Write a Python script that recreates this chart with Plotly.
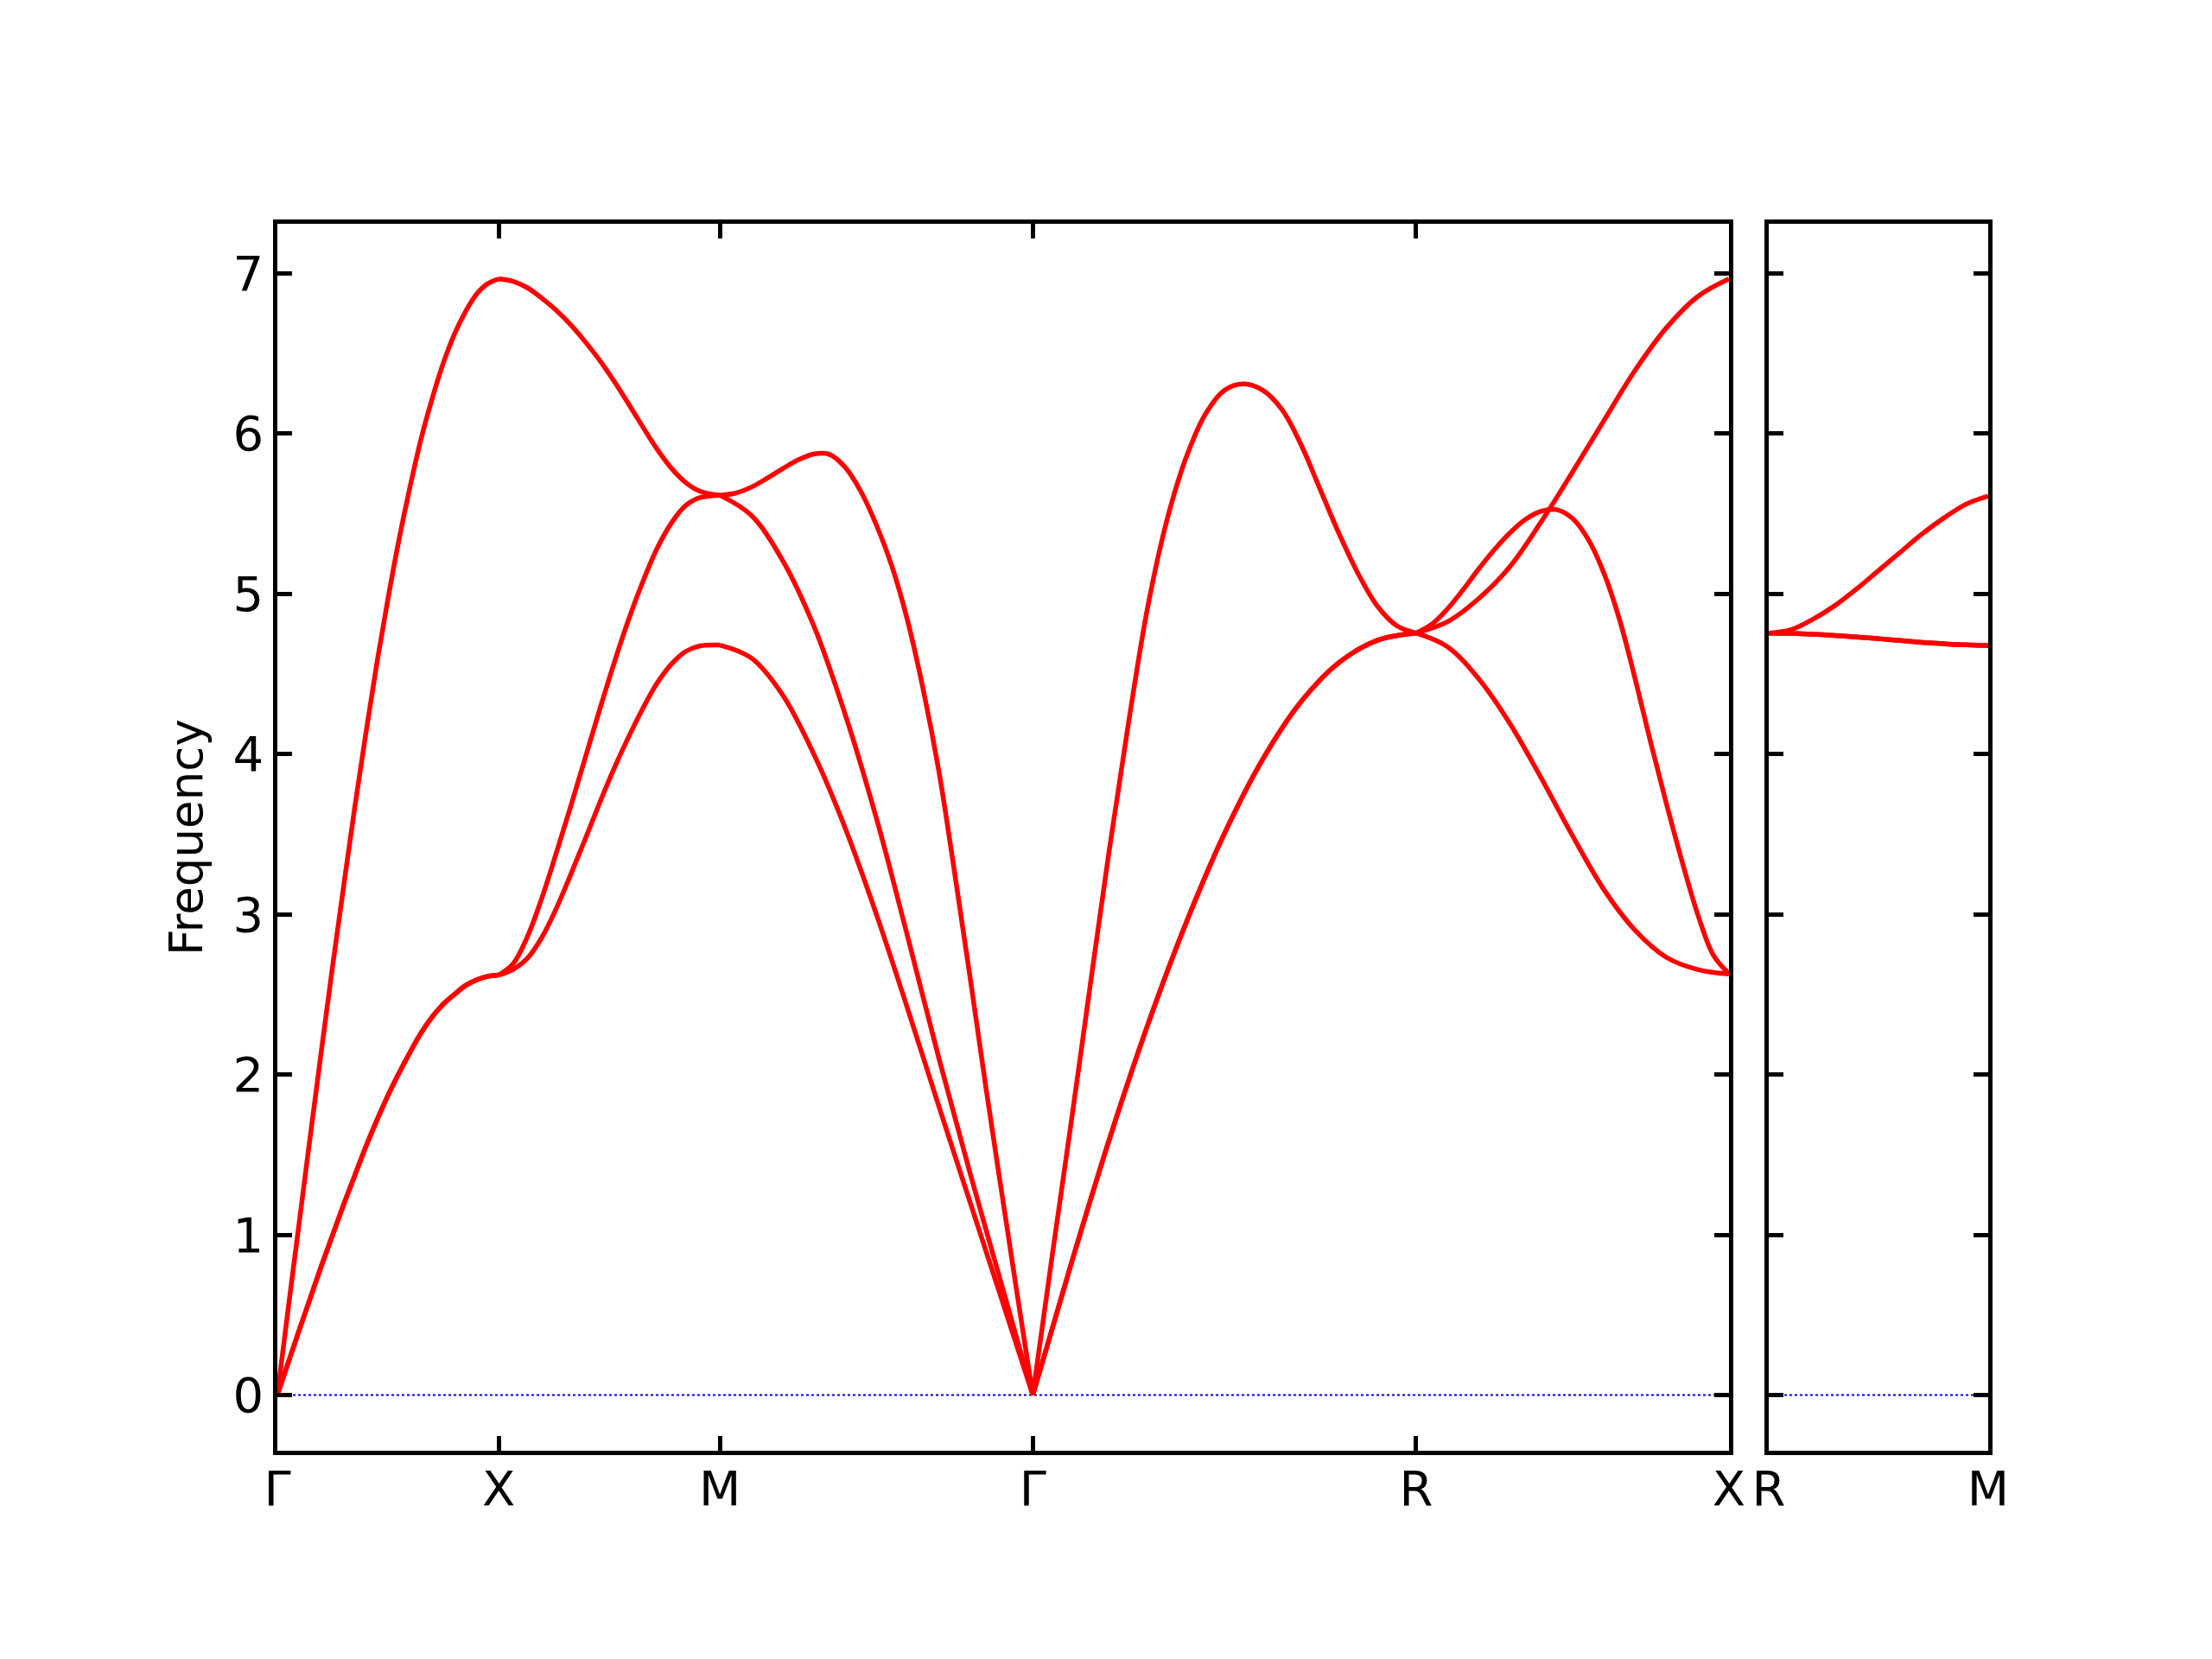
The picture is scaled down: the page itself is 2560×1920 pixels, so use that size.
import plotly.graph_objects as go

# ---------------- data ----------------
point_labels = ["Γ", "X", "M", "Γ", "R", "X"]
seg_lengths = [1.0, 1.0, 1.4142, 1.7321, 1.4142]   # Γ-X, X-M, M-Γ, Γ-R, R-X

f10 = [0, 0.1, 0.2, 0.3, 0.4, 0.5, 0.6, 0.7, 0.8, 0.9, 1.0]
f20 = [0, 0.05, 0.1, 0.15, 0.2, 0.25, 0.3, 0.35, 0.4, 0.45, 0.5,
       0.55, 0.6, 0.65, 0.7, 0.75, 0.8, 0.85, 0.9, 0.95, 1.0]

# Γ-X
gx_trans = [0, 0.205, 0.41, 0.61, 0.81, 1.0, 1.19, 1.37, 1.55, 1.715, 1.87,
            2.01, 2.14, 2.26, 2.36, 2.44, 2.50, 2.555, 2.59, 2.612, 2.62]
gx_long = [0, 0.55, 1.09, 1.63, 2.16, 2.68, 3.18, 3.67, 4.13, 4.57, 4.97,
           5.34, 5.67, 5.97, 6.22, 6.44, 6.62, 6.76, 6.87, 6.935, 6.965]
# X-M
xm_f = [0, 0.065, 0.13, 0.195, 0.26, 0.325, 0.39, 0.455, 0.52, 0.585, 0.65, 0.715, 0.78, 0.845, 0.91, 1.0]
xm_low = [2.62, 2.655, 2.725, 2.855, 3.035, 3.245, 3.465, 3.69, 3.905, 4.10, 4.28, 4.44, 4.56, 4.64, 4.675, 4.68]
xm_mid = [2.62, 2.69, 2.86, 3.10, 3.38, 3.67, 3.97, 4.27, 4.56, 4.83, 5.07, 5.28, 5.44, 5.55, 5.60, 5.615]
xm_top = [6.965, 6.95, 6.91, 6.845, 6.77, 6.68, 6.575, 6.46, 6.33, 6.19, 6.045, 5.905, 5.785, 5.695, 5.64, 5.615]
# M-Γ
mg_low = [4.68, 4.60, 4.37, 4.00, 3.54, 3.00, 2.41, 1.80, 1.20, 0.60, 0]
mg_mid = [5.615, 5.49, 5.21, 4.80, 4.25, 3.60, 2.86, 2.10, 1.38, 0.69, 0]
mg_top = [5.615, 5.628, 5.665, 5.72, 5.78, 5.835, 5.872, 5.87, 5.79, 5.64, 5.43,
          5.17, 4.83, 4.40, 3.89, 3.26, 2.60, 1.92, 1.27, 0.63, 0]
# Γ-R
gr_trans = [0, 0.818, 1.598, 2.311, 2.947, 3.504, 3.968, 4.327, 4.573, 4.711, 4.755]
gr_long = [0, 0.86, 1.70, 2.56, 3.41, 4.20, 4.92, 5.46, 5.85, 6.12, 6.27,
           6.31, 6.27, 6.15, 5.93, 5.65, 5.37, 5.12, 4.92, 4.80, 4.755]
# R-X
rx_a = [4.755, 4.825, 4.97, 5.17, 5.45, 5.76, 6.08, 6.395, 6.66, 6.855, 6.965]
rx_b = [4.755, 4.81, 4.905, 5.025, 5.155, 5.275, 5.38, 5.465, 5.515, 5.525, 5.47,
        5.34, 5.13, 4.84, 4.47, 4.07, 3.69, 3.33, 3.00, 2.745, 2.63]
rx_c = [4.755, 4.67, 4.47, 4.19, 3.85, 3.49, 3.155, 2.90, 2.731, 2.655, 2.627]

# right panel R-M
rm_labels = ["R", "M"]
rm_length = 1.0
rm_up = [4.755, 4.775, 4.84, 4.925, 5.03, 5.145, 5.26, 5.375, 5.475, 5.56, 5.61]
rm_lo = [4.755, 4.753, 4.748, 4.740, 4.730, 4.720, 4.708, 4.697, 4.688, 4.681, 4.678]

y_ticks = [0, 1, 2, 3, 4, 5, 6, 7]
y_range = [-0.348, 7.309]

# ---------------- figure ----------------
W, H = 2560, 1920
OFF = 8  # page body margin in the browser
RED = "#ff0000"
LW = 5.5

left_bands = [
    (0, f20, gx_trans), (0, f20, gx_trans), (0, f20, gx_long),
    (1, xm_f, xm_low), (1, xm_f, xm_mid), (1, xm_f, xm_top),
    (2, f10, mg_low), (2, f10, mg_mid), (2, f20, mg_top),
    (3, f10, gr_trans), (3, f10, gr_trans), (3, f20, gr_long),
    (4, f10, rx_c), (4, f20, rx_b), (4, f10, rx_a),
]
right_bands = [(f10, rm_lo), (f10, rm_lo), (f10, rm_up)]

tick_pos = [0.0]
for L in seg_lengths:
    tick_pos.append(tick_pos[-1] + L)
x_total = tick_pos[-1]

fig = go.Figure()

# zero lines
fig.add_trace(go.Scatter(x=[0, x_total], y=[0, 0], mode="lines",
                         line=dict(color="#0000ff", width=2, dash="dot"),
                         xaxis="x", yaxis="y", hoverinfo="skip", showlegend=False))
fig.add_trace(go.Scatter(x=[0, rm_length], y=[0, 0], mode="lines",
                         line=dict(color="#0000ff", width=2, dash="dot"),
                         xaxis="x2", yaxis="y2", hoverinfo="skip", showlegend=False))

for seg, fs, vs in left_bands:
    x0 = tick_pos[seg]
    L = seg_lengths[seg]
    fig.add_trace(go.Scatter(x=[x0 + L * f for f in fs], y=vs, mode="lines",
                             line=dict(color=RED, width=LW, shape="spline", smoothing=1.0),
                             xaxis="x", yaxis="y", showlegend=False))

for fs, vs in right_bands:
    fig.add_trace(go.Scatter(x=[rm_length * f for f in fs], y=vs, mode="lines",
                             line=dict(color=RED, width=LW, shape="spline", smoothing=1.0),
                             xaxis="x2", yaxis="y2", showlegend=False))

FONT = "DejaVu Sans"
TICKFONT = dict(family=FONT, size=56, color="black")

common_axis = dict(showline=True, linecolor="black", linewidth=4.5, mirror="allticks",
                   ticks="inside", ticklen=17, tickwidth=4.5, tickcolor="black",
                   showgrid=False, zeroline=False, tickfont=TICKFONT, automargin=False)


def px_x(p):
    return (p - OFF) / W


def px_y(p):  # p measured from the top
    return (H - (p - OFF)) / H


y_dom = [px_y(1679), px_y(259)]

fig.update_layout(
    width=W, height=H,
    margin=dict(l=0, r=0, t=0, b=0, autoexpand=False),
    paper_bgcolor="white", plot_bgcolor="white",
    showlegend=False,
    xaxis=dict(domain=[px_x(321), px_x(2001)], range=[0, x_total], tickmode="array",
               tickvals=tick_pos, ticktext=point_labels, anchor="y",
               ticklabelstandoff=-9, **common_axis),
    yaxis=dict(domain=y_dom, range=y_range, tickmode="array", tickvals=y_ticks,
               ticktext=[str(v) for v in y_ticks], anchor="x",
               ticklabelstandoff=0, **common_axis),
    xaxis2=dict(domain=[px_x(2047), px_x(2301)], range=[0, rm_length], tickmode="array",
                tickvals=[0, rm_length], ticktext=rm_labels, anchor="y2",
                ticklabelstandoff=-9, **common_axis),
    yaxis2=dict(domain=y_dom, range=y_range, tickmode="array", tickvals=y_ticks,
                showticklabels=False, anchor="x2", **common_axis),
    annotations=[dict(text="Frequency", x=px_x(215), y=sum(y_dom) / 2, xref="paper", yref="paper",
                      xanchor="center", yanchor="middle", textangle=-90, showarrow=False,
                      font=dict(family=FONT, size=53, color="black"))],
)

fig.write_html("out.html")
